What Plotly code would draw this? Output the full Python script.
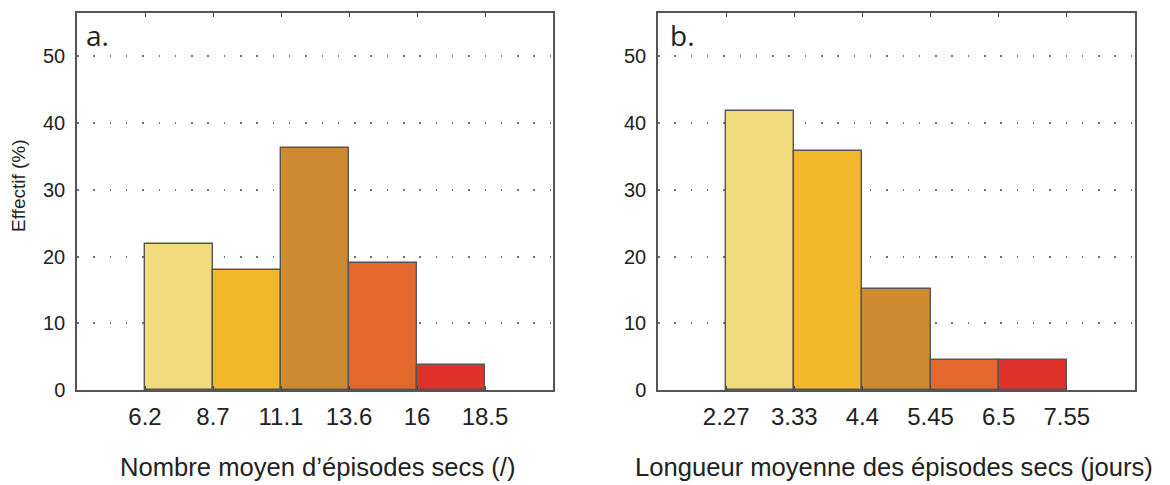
import plotly.graph_objects as go

# ---- data ----
edges_a = ["6.2", "8.7", "11.1", "13.6", "16", "18.5"]
values_a = [21.9, 18.0, 36.2, 19.0, 3.8]
edges_b = ["2.27", "3.33", "4.4", "5.45", "6.5", "7.55"]
values_b = [41.8, 35.8, 15.2, 4.5, 4.5]
bar_colors = ["#F2DB7F", "#F3B72B", "#CE8A31", "#E2682E", "#E1312B"]
y_ticks = [0, 10, 20, 30, 40, 50]
xtitle_a = "Nombre moyen d’épisodes secs (/)"
xtitle_b = "Longueur moyenne des épisodes secs (jours)"
ytitle = "Effectif (%)"

W, H = 1170, 485
FONT = "Liberation Sans, Arial, Helvetica, sans-serif"
TXT = "#222222"

def px_x(p):
    return p / W

def px_y(p):
    return 1 - p / H

fig = go.Figure()

centers = [i + 1.5 for i in range(len(values_a))]
fig.add_trace(go.Bar(x=centers, y=values_a, width=1.0, xaxis="x", yaxis="y",
                     marker=dict(color=bar_colors, line=dict(color="#555555", width=1.4)),
                     showlegend=False, hoverinfo="skip"))
fig.add_trace(go.Bar(x=centers, y=values_b, width=1.0, xaxis="x2", yaxis="y2",
                     marker=dict(color=bar_colors, line=dict(color="#555555", width=1.4)),
                     showlegend=False, hoverinfo="skip"))

ydom = [px_y(390), px_y(13)]

def xax(domain, labels, anchor):
    return dict(domain=domain, anchor=anchor, range=[0, 7], automargin=False,
                tickmode="array", tickvals=list(range(1, len(labels) + 1)), ticktext=labels,
                ticks="inside", ticklen=4, tickwidth=1.2, tickcolor="#444444",
                showline=True, linecolor="#555555", linewidth=1.5, mirror="allticks",
                showgrid=False, zeroline=False, ticklabelstandoff=4,
                tickfont=dict(family=FONT, size=24, color=TXT), fixedrange=True)

def yax(anchor):
    return dict(domain=ydom, anchor=anchor, range=[0, 56.5], automargin=False,
                tickmode="array", tickvals=y_ticks, ticks="",
                showline=True, linecolor="#555555", linewidth=1.5, mirror=True,
                showgrid=True, gridcolor="#707070", gridwidth=1.5, griddash="1.5px,14.8px",
                zeroline=False, ticklabelstandoff=6,
                tickfont=dict(family=FONT, size=20, color=TXT), fixedrange=True)

fig.update_layout(
    width=W, height=H, autosize=False,
    margin=dict(l=0, r=0, t=0, b=0, pad=0, autoexpand=False),
    paper_bgcolor="white", plot_bgcolor="white",
    bargap=0,
    xaxis=xax([px_x(77), px_x(553)], edges_a, "y"),
    yaxis=yax("x"),
    xaxis2=xax([px_x(658), px_x(1135)], edges_b, "y2"),
    yaxis2=yax("x2"),
)

ann = [
    dict(text="a.", x=px_x(84), y=px_y(35), xanchor="left", yanchor="middle",
         font=dict(family="Open Sans, " + FONT, size=28, color=TXT)),
    dict(text="b.", x=px_x(668), y=px_y(35), xanchor="left", yanchor="middle",
         font=dict(family="Open Sans, " + FONT, size=28, color=TXT)),
    dict(text=xtitle_a, x=px_x(317), y=px_y(467), xanchor="center", yanchor="middle",
         font=dict(family=FONT, size=25.6, color=TXT)),
    dict(text=xtitle_b, x=px_x(894), y=px_y(467), xanchor="center", yanchor="middle",
         font=dict(family=FONT, size=25.6, color=TXT)),
    dict(text=ytitle, x=px_x(19), y=px_y(186), xanchor="center", yanchor="middle",
         textangle=-90, font=dict(family=FONT, size=19, color=TXT)),
]
for a in ann:
    a.update(xref="paper", yref="paper", showarrow=False)
fig.update_layout(annotations=ann)

css_fix = (
    "var d=document.documentElement,b=document.body;"
    "d.style.margin='0';d.style.padding='0';d.style.overflow='hidden';"
    "b.style.margin='0';b.style.padding='0';b.style.overflow='hidden';"
)

fig.write_html("out.html",
               config={"responsive": False, "displayModeBar": False},
               default_width="1170px", default_height="485px",
               post_script=css_fix)
